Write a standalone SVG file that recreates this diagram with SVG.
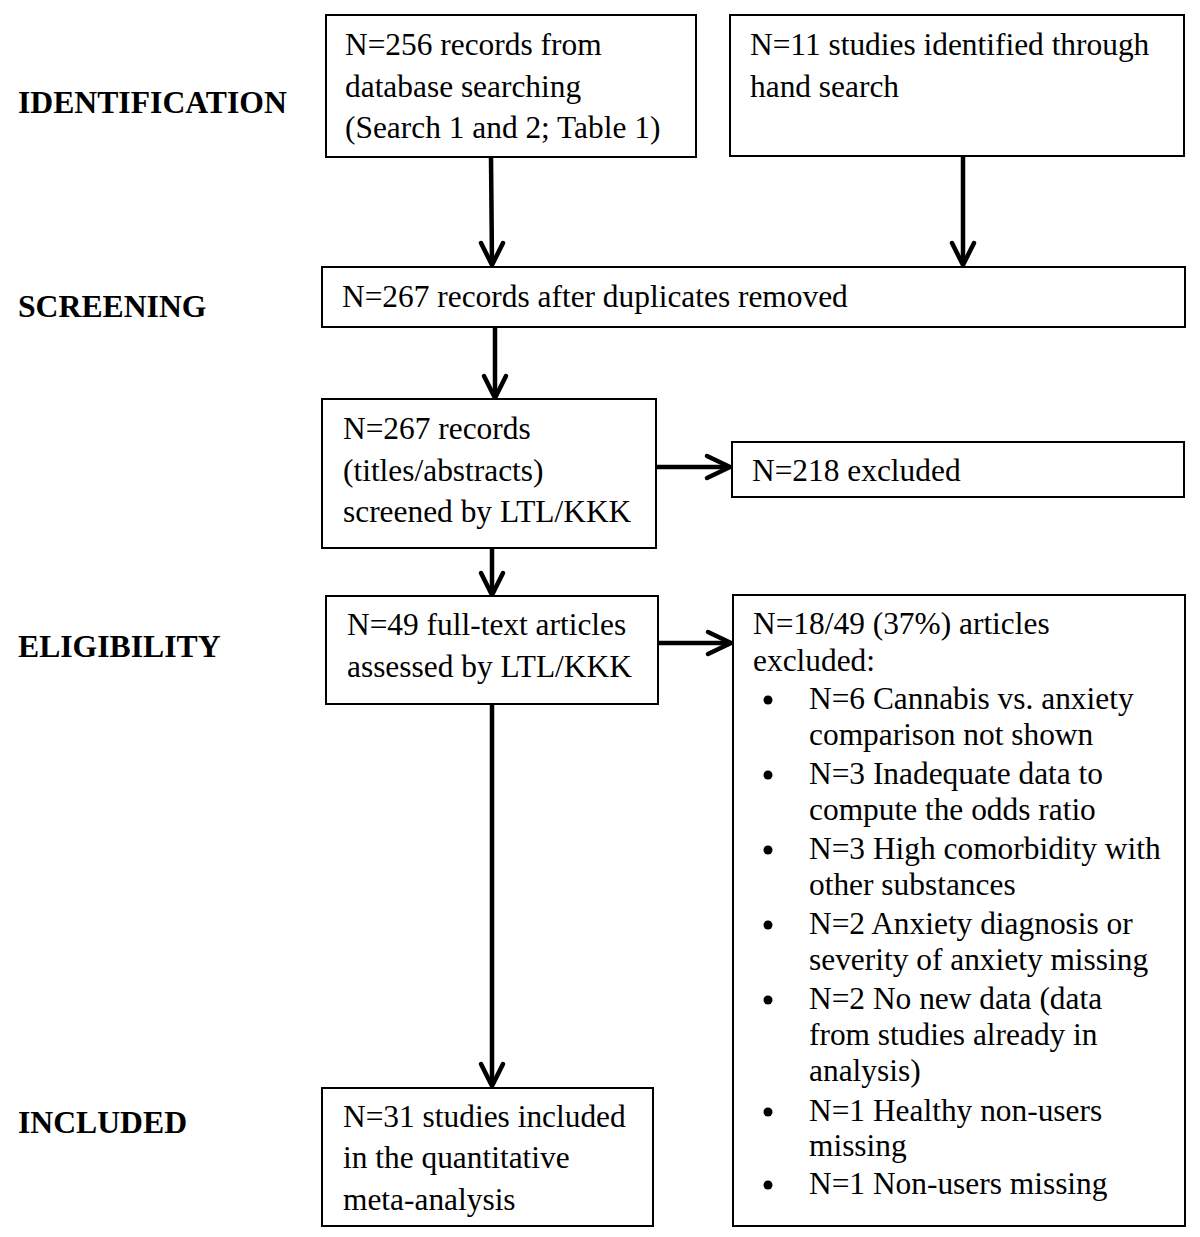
<svg xmlns="http://www.w3.org/2000/svg" width="1200" height="1237" viewBox="0 0 1200 1237">
<style>
.box{fill:#fff;stroke:#000;stroke-width:2}
.t{font-family:"Liberation Serif","Times New Roman",serif;font-size:31.4px;fill:#000}
.lab{font-family:"Liberation Serif","Times New Roman",serif;font-size:31.7px;font-weight:bold;fill:#000}
.ln{stroke:#000;stroke-width:4.5;fill:none}
.hd{stroke:#000;stroke-width:4.5;fill:none;stroke-linecap:round;stroke-linejoin:miter}
</style>
<rect width="1200" height="1237" fill="#fff"/>
<g id="labels">
<text class="lab" x="18" y="113">IDENTIFICATION</text>
<text class="lab" x="18" y="317">SCREENING</text>
<text class="lab" x="18" y="657">ELIGIBILITY</text>
<text class="lab" x="18" y="1133">INCLUDED</text>
</g>
<g id="connectors">
<line class="ln" x1="491" y1="157" x2="492" y2="263"/>
<polyline class="hd" points="481,243 492,265 503,243"/>
<line class="ln" x1="963" y1="156" x2="963" y2="263"/>
<polyline class="hd" points="952,243 963,265 974,243"/>
<line class="ln" x1="495" y1="327" x2="495" y2="395"/>
<polyline class="hd" points="484,376 495,398 506,376"/>
<line class="ln" x1="656" y1="467" x2="728" y2="467"/>
<polyline class="hd" points="707,456 730,467 707,478"/>
<line class="ln" x1="492" y1="548" x2="492" y2="592"/>
<polyline class="hd" points="481,573 492,595 503,573"/>
<line class="ln" x1="658" y1="643" x2="729" y2="643"/>
<polyline class="hd" points="708,632 731,643 708,654"/>
<line class="ln" x1="492" y1="704" x2="492" y2="1084"/>
<polyline class="hd" points="481,1064 492,1086 503,1064"/>
</g>
<g id="n1">
<rect class="box" x="326" y="15" width="370" height="142"/>
<text class="t" x="345" y="55">N=256 records from</text>
<text class="t" x="345" y="97">database searching</text>
<text class="t" x="345" y="138">(Search 1 and 2; Table 1)</text>
</g>
<g id="n2">
<rect class="box" x="730" y="15" width="454" height="141"/>
<text class="t" x="750" y="55">N=11 studies identified through</text>
<text class="t" x="750" y="97">hand search</text>
</g>
<g id="n3">
<rect class="box" x="322" y="267" width="863" height="60"/>
<text class="t" x="342" y="307">N=267 records after duplicates removed</text>
</g>
<g id="n4">
<rect class="box" x="322" y="399" width="334" height="149"/>
<text class="t" x="343" y="439">N=267 records</text>
<text class="t" x="343" y="481">(titles/abstracts)</text>
<text class="t" x="343" y="522">screened by LTL/KKK</text>
</g>
<g id="n5">
<rect class="box" x="732" y="442" width="452" height="55"/>
<text class="t" x="752" y="481">N=218 excluded</text>
</g>
<g id="n6">
<rect class="box" x="326" y="596" width="332" height="108"/>
<text class="t" x="347" y="635">N=49 full-text articles</text>
<text class="t" x="347" y="677">assessed by LTL/KKK</text>
</g>
<g id="n7">
<rect class="box" x="733" y="595" width="452" height="631"/>
<text class="t" x="753" y="634">N=18/49 (37%) articles</text>
<text class="t" x="753" y="671">excluded:</text>
<g fill="#000">
<circle cx="768" cy="700" r="4.5"/>
<circle cx="768" cy="775" r="4.5"/>
<circle cx="768" cy="850" r="4.5"/>
<circle cx="768" cy="925" r="4.5"/>
<circle cx="768" cy="1000" r="4.5"/>
<circle cx="768" cy="1112" r="4.5"/>
<circle cx="768" cy="1185" r="4.5"/>
</g>
<text class="t" x="809" y="709">N=6 Cannabis vs. anxiety</text>
<text class="t" x="809" y="745">comparison not shown</text>
<text class="t" x="809" y="784">N=3 Inadequate data to</text>
<text class="t" x="809" y="820">compute the odds ratio</text>
<text class="t" x="809" y="859">N=3 High comorbidity with</text>
<text class="t" x="809" y="895">other substances</text>
<text class="t" x="809" y="934">N=2 Anxiety diagnosis or</text>
<text class="t" x="809" y="970">severity of anxiety missing</text>
<text class="t" x="809" y="1009">N=2 No new data (data</text>
<text class="t" x="809" y="1045">from studies already in</text>
<text class="t" x="809" y="1081">analysis)</text>
<text class="t" x="809" y="1121">N=1 Healthy non-users</text>
<text class="t" x="809" y="1156">missing</text>
<text class="t" x="809" y="1194">N=1 Non-users missing</text>
</g>
<g id="n8">
<rect class="box" x="322" y="1088" width="331" height="138"/>
<text class="t" x="343" y="1127">N=31 studies included</text>
<text class="t" x="343" y="1168">in the quantitative</text>
<text class="t" x="343" y="1210">meta-analysis</text>
</g>
</svg>
